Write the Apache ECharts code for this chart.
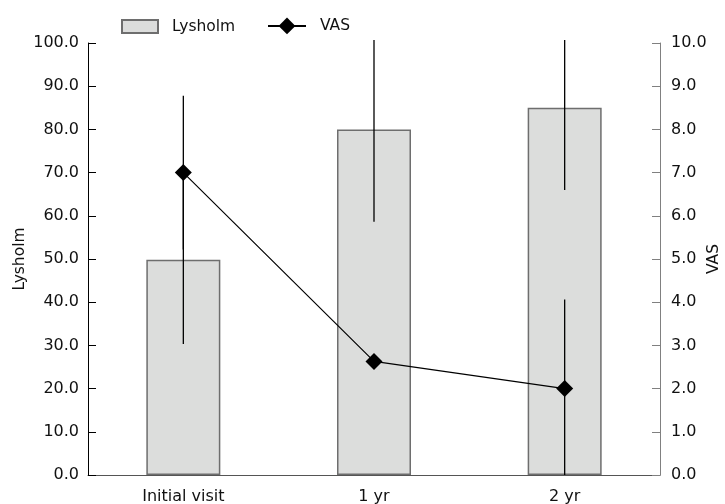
<!DOCTYPE html>
<html>
<head>
<meta charset="utf-8">
<script src="https://cdn.jsdelivr.net/npm/echarts@6/dist/echarts.min.js"></script>
<style>html,body{margin:0;padding:0;background:#fff}#c{width:725px;height:504px}</style>
</head>
<body>
<div id="c"></div>
<script>
const categories = ['Initial visit', '1 yr', '2 yr'];
const lysholm = [49.8, 80.0, 85.0];
const lysholmSD = [19.5, 21.4, 19.0];
const vas = [7.0, 2.63, 2.0];
const vasSD = [1.78, 0, 2.06];
const lysholmTicks = [0, 100, 10];
const vasTicks = [0, 10, 1];

const FONT = 'DejaVu Sans';
const errData = (m, s) => m.map((v, i) => [i, v - s[i], v + s[i]]);

function errRender(params, api) {
  const cs = params.coordSys;
  const lo = api.coord([api.value(0), api.value(1)]);
  const hi = api.coord([api.value(0), api.value(2)]);
  const bottom = Math.min(lo[1], cs.y + cs.height);
  const top = Math.max(hi[1], cs.y - 3);
  if (bottom - top < 0.5) return null;
  return {
    type: 'line',
    shape: { x1: lo[0], y1: top, x2: lo[0], y2: bottom },
    style: { stroke: '#000', lineWidth: 1.3 }
  };
}

const legendText = { fontFamily: FONT, fontSize: 15.5, color: '#111', padding: [0, 0, 0, 9] };

const chart = echarts.init(document.getElementById('c'), null, { renderer: 'canvas' });
chart.setOption({
  animation: false,
  backgroundColor: '#fff',
  textStyle: { fontFamily: FONT },
  grid: { left: 88, right: 65, top: 43, bottom: 29, outerBoundsMode: 'none', containLabel: false },
  legend: [
    {
      left: 121, top: 18.5, padding: 0,
      itemWidth: 36, itemHeight: 13,
      textStyle: legendText,
      data: [{ name: 'Lysholm', icon: 'rect' }]
    },
    {
      left: 267, top: 17.5, padding: 0,
      itemWidth: 38, itemHeight: 21,
      textStyle: legendText,
      data: [{ name: 'VAS' }]
    }
  ],
  xAxis: {
    type: 'category',
    data: categories,
    axisLine: { lineStyle: { color: '#555', width: 1 } },
    axisTick: { show: false },
    axisLabel: { fontFamily: FONT, fontSize: 16, color: '#111', margin: 14 },
    splitLine: { show: false }
  },
  yAxis: [
    {
      type: 'value', min: lysholmTicks[0], max: lysholmTicks[1], interval: lysholmTicks[2],
      name: 'Lysholm', nameLocation: 'middle', nameGap: 60, nameRotate: 90, nameMoveOverlap: false,
      nameTextStyle: { fontFamily: FONT, fontSize: 15.5, color: '#111' },
      axisLine: { show: true, lineStyle: { color: '#000', width: 1 } },
      axisTick: { show: true, inside: true, length: 8, lineStyle: { color: '#000' } },
      axisLabel: { fontFamily: FONT, fontSize: 16, color: '#111', margin: 9, formatter: v => v.toFixed(1) },
      splitLine: { show: false }
    },
    {
      type: 'value', min: vasTicks[0], max: vasTicks[1], interval: vasTicks[2],
      name: 'VAS', nameLocation: 'middle', nameGap: 46, nameRotate: 90, nameMoveOverlap: false,
      nameTextStyle: { fontFamily: FONT, fontSize: 15.5, color: '#111' },
      axisLine: { show: true, lineStyle: { color: '#808080', width: 1 } },
      axisTick: { show: true, inside: true, length: 8, lineStyle: { color: '#808080' } },
      axisLabel: { fontFamily: FONT, fontSize: 16, color: '#111', margin: 11, formatter: v => v.toFixed(1) },
      splitLine: { show: false }
    }
  ],
  series: [
    {
      name: 'Lysholm', type: 'bar', yAxisIndex: 0, data: lysholm,
      barWidth: 74,
      itemStyle: { color: '#dcdddc', borderColor: '#6e6e6e', borderWidth: 1.5 },
      z: 2
    },
    {
      name: 'LysholmErr', type: 'custom', yAxisIndex: 0,
      data: errData(lysholm, lysholmSD),
      encode: { x: 0, y: [1, 2] },
      renderItem: errRender, clip: false, silent: true, z: 3
    },
    {
      name: 'VASErr', type: 'custom', yAxisIndex: 1,
      data: errData(vas, vasSD),
      encode: { x: 0, y: [1, 2] },
      renderItem: errRender, clip: false, silent: true, z: 3
    },
    {
      name: 'VAS', type: 'line', yAxisIndex: 1, data: vas,
      symbol: 'diamond', symbolSize: 17,
      lineStyle: { color: '#000', width: 1.2 },
      itemStyle: { color: '#000' },
      z: 4
    }
  ]
});
</script>
</body>
</html>
